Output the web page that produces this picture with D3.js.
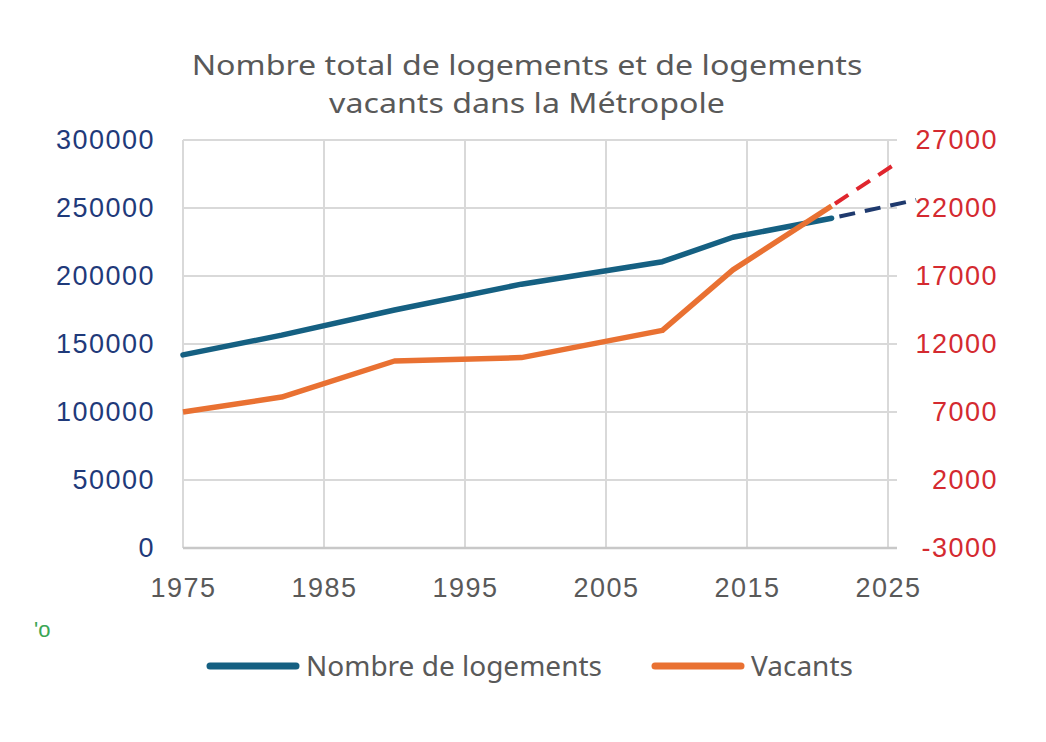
<!DOCTYPE html>
<html>
<head>
<meta charset="utf-8">
<script src="https://cdn.jsdelivr.net/npm/d3@7"></script>
<style>
  body { margin: 0; background: #ffffff; }
  svg { display: block; }
</style>
</head>
<body>
<script>
// Data
var years = [1975, 1982, 1990, 1999, 2009, 2014, 2021];
var logements = [142000, 156500, 175000, 194000, 210500, 228500, 242500];
var vacants = [7000, 8100, 10750, 11000, 13000, 17450, 22150];

// Dashed projections
var projLogYears = [2021, 2027];
var projLogements = [242500, 256000];
var projVacYears = [2021, 2025.6];
var projVacants = [22150, 25300];

var xTicks = [1975, 1985, 1995, 2005, 2015, 2025];
var leftTicks = [0, 50000, 100000, 150000, 200000, 250000, 300000];
var rightTicks = [-3000, 2000, 7000, 12000, 17000, 22000, 27000];

var titleLines = ["Nombre total de logements et de logements", "vacants dans la Métropole"];
var seriesNames = ["Nombre de logements", "Vacants"];

// SVG size
var svgWidth = 1046;
var svgHeight = 742;

// Plot area
var plot = { left: 183, right: 888, top: 140, bottom: 548 };

var svg = d3.select('body')
    .append('svg')
    .attr('width', svgWidth)
    .attr('height', svgHeight);

// Scales
var xScale = d3.scaleLinear().domain([1975, 2025]).range([plot.left, plot.right]);
var yLeft = d3.scaleLinear().domain([0, 300000]).range([plot.bottom, plot.top]);
var yRight = d3.scaleLinear().domain([-3000, 27000]).range([plot.bottom, plot.top]);

var gridColor = '#d9d9d9';
var axisFont = '"Liberation Sans", Arial, sans-serif';
var titleFont = '"Noto Sans", "Open Sans", sans-serif';

// Horizontal gridlines (extend a little past the right axis as ticks)
svg.append('g')
    .selectAll('line')
    .data(leftTicks)
    .enter()
    .append('line')
    .attr('x1', plot.left)
    .attr('x2', plot.right + 9)
    .attr('y1', d => yLeft(d))
    .attr('y2', d => yLeft(d))
    .attr('stroke', gridColor)
    .attr('stroke-width', 2);

// Vertical gridlines
svg.append('g')
    .selectAll('line')
    .data(xTicks)
    .enter()
    .append('line')
    .attr('x1', d => xScale(d))
    .attr('x2', d => xScale(d))
    .attr('y1', plot.top)
    .attr('y2', plot.bottom)
    .attr('stroke', gridColor)
    .attr('stroke-width', 2);

// Bottom line a touch darker
svg.append('line')
    .attr('x1', plot.left)
    .attr('x2', plot.right + 9)
    .attr('y1', plot.bottom)
    .attr('y2', plot.bottom)
    .attr('stroke', '#c8c8c8')
    .attr('stroke-width', 2.5);

// Axes (labels only, lines drawn as grid)
var plain = d => String(d);
var leftAxis = d3.axisLeft(yLeft).tickValues(leftTicks).tickSize(0).tickPadding(28).tickFormat(plain);
var rightAxis = d3.axisRight(yRight).tickValues(rightTicks).tickSize(0).tickPadding(0).tickFormat(plain);
var bottomAxis = d3.axisBottom(xScale).tickValues(xTicks).tickSize(0).tickPadding(30).tickFormat(plain);

var gLeft = svg.append('g')
    .attr('transform', `translate(${plot.left}, 0)`)
    .call(leftAxis);
gLeft.selectAll('text')
    .attr('fill', '#1f3a7a')
    .style('font-family', axisFont)
    .style('font-size', '27px')
    .style('letter-spacing', '1.5px');

var gRight = svg.append('g')
    .attr('transform', `translate(998, 0)`)
    .call(rightAxis);
gRight.selectAll('text')
    .attr('fill', '#d42a30')
    .attr('text-anchor', 'end')
    .style('font-family', axisFont)
    .style('font-size', '27px')
    .style('letter-spacing', '1.5px');

var gBottom = svg.append('g')
    .attr('transform', `translate(0, ${plot.bottom})`)
    .call(bottomAxis);
gBottom.selectAll('text')
    .attr('fill', '#595959')
    .style('font-family', axisFont)
    .style('font-size', '27px')
    .style('letter-spacing', '1.5px');

svg.selectAll('.domain').remove();

// Lines
var logLine = d3.line()
    .x((d, i) => xScale(years[i]))
    .y(d => yLeft(d));
var vacLine = d3.line()
    .x((d, i) => xScale(years[i]))
    .y(d => yRight(d));

svg.append('path')
    .datum(logements)
    .attr('d', logLine)
    .attr('fill', 'none')
    .attr('stroke', '#156082')
    .attr('stroke-width', 5.5)
    .attr('stroke-linejoin', 'round')
    .attr('stroke-linecap', 'round');

svg.append('path')
    .datum(vacants)
    .attr('d', vacLine)
    .attr('fill', 'none')
    .attr('stroke', '#e97132')
    .attr('stroke-width', 5.5)
    .attr('stroke-linejoin', 'round')
    .attr('stroke-linecap', 'butt');

// Dashed projections
var projLogLine = d3.line()
    .x((d, i) => xScale(projLogYears[i]))
    .y(d => yLeft(d));
var projVacLine = d3.line()
    .x((d, i) => xScale(projVacYears[i]))
    .y(d => yRight(d));

svg.append('path')
    .datum(projLogements)
    .attr('d', projLogLine)
    .attr('fill', 'none')
    .attr('stroke', '#1f3a6e')
    .attr('stroke-width', 4)
    .attr('stroke-dasharray', '16,10')
    .attr('stroke-dashoffset', -8);

svg.append('path')
    .datum(projVacants)
    .attr('d', projVacLine)
    .attr('fill', 'none')
    .attr('stroke', '#e0262e')
    .attr('stroke-width', 4)
    .attr('stroke-dasharray', '16,10')
    .attr('stroke-dashoffset', -4);

// Title (slightly stretched horizontally like the reference)
svg.append('g')
    .attr('transform', 'translate(527, 0) scale(1.17, 1)')
    .append('text')
    .attr('text-anchor', 'middle')
    .attr('fill', '#595959')
    .style('font-family', titleFont)
    .style('font-size', '27.5px')
    .selectAll('tspan')
    .data(titleLines)
    .enter()
    .append('tspan')
    .attr('x', 0)
    .attr('y', (d, i) => 75 + i * 38)
    .text(d => d);

// Legend
var legendItems = [
    { name: seriesNames[0], color: '#156082', x: 210 },
    { name: seriesNames[1], color: '#e97132', x: 655 }
];
var legend = svg.append('g');
legend.selectAll('line')
    .data(legendItems)
    .enter()
    .append('line')
    .attr('x1', d => d.x)
    .attr('x2', d => d.x + 86)
    .attr('y1', 666)
    .attr('y2', 666)
    .attr('stroke', d => d.color)
    .attr('stroke-width', 7)
    .attr('stroke-linecap', 'round');
legend.selectAll('text')
    .data(legendItems)
    .enter()
    .append('text')
    .attr('x', d => d.x + 96)
    .attr('y', 676)
    .attr('fill', '#595959')
    .style('font-family', titleFont)
    .style('font-size', '28px')
    .text(d => d.name);

// Stray fragment on the left
svg.append('text')
    .attr('x', 34)
    .attr('y', 637)
    .attr('fill', '#3aa655')
    .style('font-family', axisFont)
    .style('font-size', '22px')
    .text("'o");
</script>
</body>
</html>
